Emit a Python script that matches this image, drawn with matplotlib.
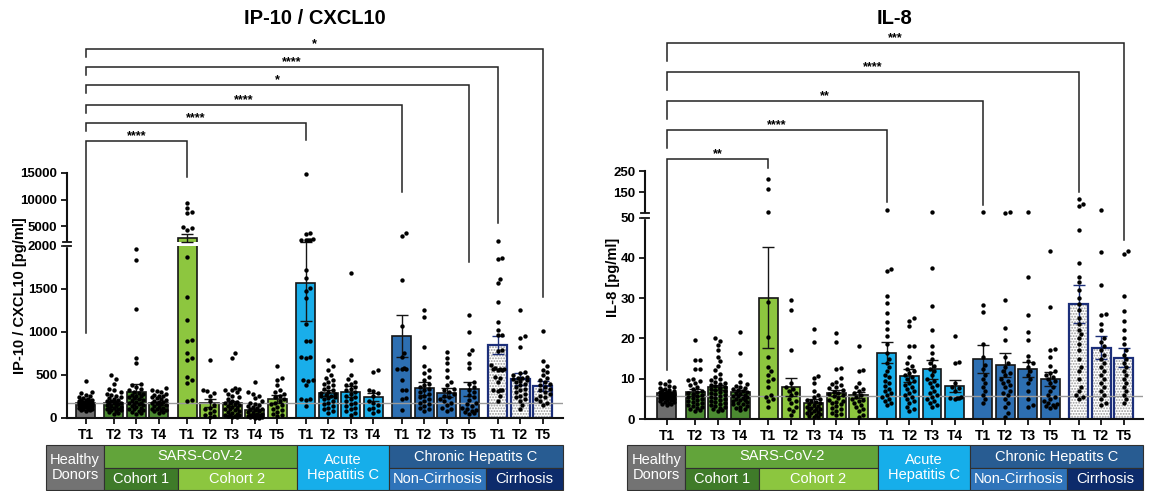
import numpy as np
import matplotlib
matplotlib.use("Agg")
import matplotlib.pyplot as plt
from matplotlib.transforms import blended_transform_factory as btf
from matplotlib.patches import Rectangle
from matplotlib.ticker import NullLocator

plt.rcParams['font.family'] = ['Liberation Sans', 'DejaVu Sans']
plt.rcParams['font.weight'] = 'bold'
plt.rcParams['hatch.linewidth'] = 0.9

# ---------------- data ----------------
group_sizes = [1, 3, 5, 4, 4, 3]   # Healthy, SARS C1, SARS C2, AHC, CHC non-cirr, CHC cirr
tick_labels = ["T1", "T2", "T3", "T4", "T1", "T2", "T3", "T4", "T5",
               "T1", "T2", "T3", "T4", "T1", "T2", "T3", "T5", "T1", "T2", "T5"]

ip10_means = [170, 178, 306, 170, 2800, 175, 170, 93, 217,
              1575, 295, 306, 240, 953, 345, 295, 340, 850, 455, 376]
ip10_sems = [10, 15, 85, 15, 700, 42, 25, 15, 47,
             450, 35, 66, 47, 245, 78, 50, 79, 107, 66, 58]
ip10_points = [
    [435, 300, 285, 270, 255, 245, 235, 225, 215, 210, 205, 200, 195, 190, 185, 180, 178, 175, 172, 170,
     168, 165, 160, 158, 155, 150, 148, 145, 140, 135, 130, 125, 120, 115, 110, 105, 100, 95, 90, 85],
    [495, 450, 400, 340, 320, 300, 280, 270, 255, 240, 230, 220, 210, 200, 195, 190, 180, 175, 170, 160,
     150, 145, 140, 130, 120, 115, 110, 100, 95, 90, 80, 70, 60, 50],
    [1960, 1840, 1270, 700, 640, 400, 380, 360, 340, 320, 300, 290, 280, 270, 260, 250, 240, 230, 220, 210,
     200, 190, 180, 170, 165, 160, 150, 140, 130, 120, 110, 100, 90, 80, 70, 60, 50],
    [345, 330, 310, 300, 280, 270, 260, 250, 240, 230, 220, 210, 200, 190, 185, 180, 170, 160, 150, 140,
     130, 120, 110, 100, 95, 90, 80, 70, 60],
    [9370, 8450, 7640, 7500, 4750, 4300, 4700, 1876, 1407, 1140, 907, 900, 760, 700, 680, 480, 440, 410, 210, 200],
    [670, 330, 310, 290, 260, 200, 150, 120, 100, 80, 60, 40, 20, 10],
    [750, 700, 350, 340, 330, 320, 300, 280, 260, 240, 220, 200, 190, 180, 170, 160, 150, 140, 130, 120,
     110, 100, 90, 80, 70, 60, 50, 40, 35, 30, 25, 20, 15, 10],
    [420, 300, 280, 260, 230, 200, 180, 160, 150, 140, 130, 120, 110, 100, 90, 80, 70, 60, 50, 45,
     40, 35, 30, 25, 20, 15, 10, 10, 5, 5],
    [610, 470, 440, 380, 330, 300, 280, 260, 240, 220, 200, 180, 160, 150, 130, 110, 90, 70, 50, 30, 20],
    [14800, 3700, 3600, 2500, 2450, 2420, 2400, 2380, 1720, 1630, 1510, 1480, 1390, 1090, 890, 895, 705, 700,
     710, 440, 445, 435, 385, 220, 225, 215, 140],
    [680, 600, 560, 500, 470, 440, 420, 400, 380, 360, 340, 320, 300, 290, 280, 270, 260, 250, 240, 230,
     220, 200, 180, 160, 140, 120, 100, 80, 60],
    [1680, 680, 500, 450, 420, 400, 380, 360, 340, 320, 300, 280, 260, 240, 220, 200, 180, 160, 140, 120,
     100, 80, 60, 40],
    [560, 540, 330, 310, 290, 250, 200, 180, 150, 120, 100, 80, 60],
    [3640, 3080, 1600, 1070, 760, 710, 580, 575, 570, 565, 440, 330, 320, 230, 225, 95],
    [1260, 1180, 830, 600, 560, 520, 480, 440, 400, 380, 360, 340, 320, 300, 280, 260, 240, 220, 200, 180,
     160, 140, 120, 100, 80],
    [770, 700, 640, 560, 480, 420, 380, 340, 320, 300, 280, 260, 240, 220, 200, 180, 150, 120, 100, 80],
    [1200, 1000, 790, 740, 640, 580, 420, 390, 360, 330, 300, 270, 240, 210, 180, 160, 140, 120, 100, 90,
     80, 70, 60, 50],
    [2300, 1860, 1850, 1620, 1570, 1350, 1120, 1020, 970, 960, 790, 780, 620, 580, 575, 570, 565, 560, 555,
     480, 470, 420, 330, 325, 320, 315, 250, 200],
    [1250, 950, 930, 820, 540, 520, 500, 480, 470, 460, 450, 440, 430, 420, 400, 380, 360, 340, 320, 300,
     280, 260, 240, 220, 200, 150, 100],
    [1010, 660, 600, 560, 530, 500, 470, 440, 420, 400, 380, 360, 340, 320, 300, 280, 260, 240, 220, 200, 180, 150],
]
ip10_ref = 170
ip10_yticks = [0, 500, 1000, 1500, 2000, 5000, 10000, 15000]

il8_means = [6.4, 6.6, 7.9, 6.6, 30.1, 7.9, 4.05, 6.5, 5.9,
             16.5, 10.7, 12.3, 8.2, 14.9, 13.4, 12.3, 9.9, 28.5, 17.7, 15.2]
il8_sems = [0.3, 0.8, 0.6, 0.7, 12.5, 2.2, 1.0, 0.7, 0.7,
            2.7, 1.6, 2.4, 1.5, 3.5, 3.1, 1.9, 1.7, 4.7, 2.8, 2.3]
il8_points = [
    [9.5, 9.0, 8.6, 8.3, 8.0, 7.8, 7.5, 7.3, 7.1, 7.0, 6.8, 6.6, 6.5, 6.4, 6.3, 6.2, 6.1, 6.0, 5.9, 5.8,
     5.7, 5.6, 5.5, 5.4, 5.3, 5.2, 5.1, 5.0, 4.9, 4.8, 4.6, 4.5, 4.3, 4.1, 4.0, 3.8, 3.6, 3.5, 6.5, 6.0],
    [19.6, 14.7, 14.6, 12.5, 12.3, 10, 9.6, 9.4, 9, 8.5, 8, 7.5, 7, 6.8, 6.5, 6.2, 6, 5.8, 5.5, 5.2,
     5, 4.8, 4.5, 4.2, 4, 3.8, 3.5, 3.2, 3, 2.8, 2.5, 2.2, 2],
    [20.2, 19.4, 18.4, 17, 15.5, 14.3, 13.2, 12.1, 11.2, 10.5, 10, 9.6, 9.3, 9, 8.8, 8.5, 8.2, 8, 7.8, 7.5,
     7.2, 7, 6.8, 6.5, 6.2, 6, 5.8, 5.5, 5.2, 5, 4.8, 4.5, 4.2, 4, 3.8, 3.5, 3.2, 3, 2.8, 2.5, 2.2, 2],
    [21.5, 16.4, 11, 9.2, 8.6, 8.2, 8, 7.7, 7.4, 7.2, 7, 6.8, 6.5, 6.3, 6, 5.8, 5.6, 5.4, 5.2, 5,
     4.8, 4.6, 4.4, 4.2, 4, 3.8, 3.6, 3.3, 3, 2.8, 2.5, 2.2],
    [211, 164, 55.6, 29, 20.3, 15.5, 13, 12, 11, 10, 9.5, 8, 6, 5.5, 5, 4.5, 3],
    [29.5, 27, 17, 9, 8, 7.5, 7, 6.5, 6, 5, 4.5, 4, 3, 2.5, 2, 1],
    [22.3, 19, 10.6, 10.2, 9, 7, 6, 5.5, 5, 4.8, 4.5, 4.2, 4, 3.8, 3.5, 3.2, 3, 2.8, 2.6, 2.4,
     2.2, 2, 1.8, 1.6, 1.4, 1.2, 1, 0.8, 0.6, 0.5],
    [21.3, 19, 12.6, 12.3, 10.2, 9.3, 8.8, 8.4, 8, 7.6, 7.2, 6.8, 6.5, 6.2, 6, 5.6, 5.2, 4.8, 4.5, 4.2,
     4, 3.6, 3.2, 2.8, 2.4, 2, 1.6, 1.2, 1],
    [18.1, 12.2, 11.9, 9, 8, 7.5, 7, 6.5, 6, 5.5, 5, 4.8, 4.5, 4, 3.5, 3, 2.5, 2, 1, 0.5],
    [68.7, 37.2, 36.7, 30.4, 28.7, 26.2, 24, 22.3, 20.7, 18.5, 16.5, 15, 14, 13, 12, 11, 10.3, 9.5, 9, 8.3,
     7.5, 7, 6.5, 6, 5.5, 5, 4.5, 4, 3.5],
    [25, 24.3, 23, 18, 18, 15.5, 14, 13.2, 12.5, 12, 11.5, 11, 10.5, 10, 9.5, 9, 8.5, 8, 7.5, 7,
     6.5, 6, 5.5, 5, 4.5, 4, 3, 2.5, 2],
    [58.7, 37.4, 28.1, 22, 18, 16.5, 15, 14, 13.2, 12.5, 12, 11, 10, 9.5, 9, 8.5, 8, 7, 6.5, 6,
     5.5, 5, 4.5, 4, 3.5, 3],
    [20.5, 14.1, 14, 9, 8, 7.6, 7, 5.5, 5.3, 5.2, 5.1, 5],
    [56, 28.2, 26.5, 18.5, 15.5, 13.5, 12.5, 11, 10, 9, 8, 7, 6, 5, 4],
    [55, 54, 29.5, 22.6, 19.5, 15.3, 14, 13, 12, 11.5, 11, 10, 9.5, 9, 8.5, 8, 7, 6.5, 6, 5, 4, 3, 1.5, 0.5],
    [58, 35.3, 25.8, 21.7, 19.6, 15.7, 14.5, 13.8, 13, 12, 11, 10, 9, 7, 5, 3.5, 3],
    [41.6, 27.8, 17.4, 17, 15.3, 13.2, 12, 11.5, 11, 10.5, 10, 9.5, 9, 8, 7, 6, 5.5, 5, 4.5, 4,
     3.8, 3.5, 3.2, 3, 2.8],
    [116, 95, 84, 47, 38.7, 35.3, 34, 32, 30, 28.5, 27, 25, 23.5, 22, 21, 20, 18.5, 17, 15, 13,
     12, 10, 8, 7, 6, 5, 5.5],
    [66, 41.4, 33.3, 26, 25.8, 23.5, 22, 20, 19, 18, 17, 16, 15, 14, 13, 12, 11, 10, 9, 8, 7, 6, 5, 4, 3.5],
    [41.7, 41, 30.5, 26.8, 24.2, 22, 20, 18.5, 17, 16, 15, 14, 13, 12, 11, 10, 9, 8, 7, 6, 5, 4],
]
il8_ref = 5.8
il8_yticks = [0, 10, 20, 30, 40, 50, 150, 250]

# significance comparisons: (index of first bar, index of second bar, label)
ip10_sig = [(0, 4, "****"), (0, 9, "****"), (0, 13, "****"), (0, 16, "*"), (0, 17, "****"), (0, 19, "*")]
il8_sig = [(0, 4, "**"), (0, 9, "****"), (0, 13, "**"), (0, 17, "****"), (0, 19, "***")]

# ---------------- styling ----------------
group_colors = ['#6e6e6e', '#4b8a31', '#8dc63f', '#19aeea', '#2d6fb2', 'white']
W, H = 1152, 491
fig = plt.figure(figsize=(W / 100, H / 100), dpi=100)


def fy(px):
    return 1 - px / H


positions = []
gidx = []
xcur = 0.0
for g, n in enumerate(group_sizes):
    for _ in range(n):
        positions.append(xcur)
        gidx.append(g)
        xcur += 1
    xcur += 0.25
positions = np.array(positions)


def make_scale(brk, gap, k):
    def fwd(y):
        y = np.asarray(y, float)
        return np.where(y <= brk, y, brk + gap + (y - brk) * k)

    def inv(u):
        u = np.asarray(u, float)
        return np.where(u <= brk, u, brk + np.maximum(u - brk - gap, 0) / k)
    return fwd, inv


def swarm(ax, x, vals, d=4.6, half=9.0):
    vals = np.asarray(vals, float)
    pts = ax.transData.transform(np.column_stack([np.full(len(vals), x), vals]))
    ys = pts[:, 1]
    ppu = ax.transData.transform([[1, 0]])[0, 0] - ax.transData.transform([[0, 0]])[0, 0]
    step = d / 2
    cands = [0.0]
    for k in range(1, 12):
        cands += [k * step, -k * step]
    cands = [c for c in cands if abs(c) <= half]
    px_l, py_l = [], []
    offs = np.zeros(len(vals))
    for i in np.argsort(ys):
        y = ys[i]
        best, bestc, bestd = None, 0.0, -1
        for c in cands:
            if px_l:
                md = np.min(np.hypot(c - np.array(px_l), y - np.array(py_l)))
            else:
                md = 1e9
            if md >= d:
                best = c
                break
            if md > bestd:
                bestd, bestc = md, c
        if best is None:
            best = bestc
        offs[i] = best
        px_l.append(best)
        py_l.append(y)
    return x + offs / ppu


def draw_panel(rect_px, xlim, brk, gap, k, ylim_top, means, sems, points, ref, yticks,
               title, ylabel, ylab_pos, sig, sig_px, box_right):
    l, r, t, b = rect_px
    ax = fig.add_axes([l / W, 1 - b / H, (r - l) / W, (b - t) / H])
    ax.set_yscale('function', functions=make_scale(brk, gap, k))
    ax.set_xlim(*xlim)
    ax.set_ylim(0, ylim_top)
    ax.set_yticks(yticks)
    ax.set_yticklabels([str(v) for v in yticks])
    ax.yaxis.set_minor_locator(NullLocator())
    ax.set_xticks(positions)
    ax.set_xticklabels(tick_labels)
    ax.tick_params(axis='both', width=1.3, length=4, pad=3, color='#111111')
    ax.tick_params(axis='x', labelsize=10)
    ax.tick_params(axis='y', labelsize=9.5)
    for s in ['top', 'right']:
        ax.spines[s].set_visible(False)
    for s in ['left', 'bottom']:
        ax.spines[s].set_linewidth(1.5)
        ax.spines[s].set_color('#111111')

    w = 0.84
    for i, (x, m, e) in enumerate(zip(positions, means, sems)):
        g = gidx[i]
        if g == 5:
            ax.bar(x, m, width=w, color='white', edgecolor='#999999', hatch='......', lw=0, zorder=2)
            ax.bar(x, m, width=w, fill=False, edgecolor='#1c2f7a', lw=1.6, zorder=2.2)
            ec = '#1c2f7a'
        else:
            ax.bar(x, m, width=w, color=group_colors[g], edgecolor='#151515', lw=1.2, zorder=2)
            ec = '#151515'
        ax.errorbar(x, m, yerr=e, fmt='none', ecolor=ec, elinewidth=1.0, capsize=4, capthick=1.0, zorder=3)
        if m > brk:
            ax.fill_between([x - w / 2 - 0.1, x + w / 2 + 0.1], brk, brk * (1 + 1e-6),
                            color='white', lw=0, zorder=2.6)
    ax.axhline(ref, color='#9a9a9a', lw=1.0, zorder=2.5)

    for i, x in enumerate(positions):
        xs = swarm(ax, x, points[i])
        ax.scatter(xs, points[i], s=10, color='black', linewidths=0, zorder=4, clip_on=False)

    # axis break marks
    trb = btf(ax.transAxes, ax.transData)
    eps = brk * 1e-6
    ax.add_patch(Rectangle((-0.01, brk), 0.02, eps, transform=trb, color='white', zorder=5, clip_on=False))
    for yy in (brk, brk + eps):
        ax.plot([-0.009, 0.009], [yy, yy], transform=trb, color='#111111', lw=1.3, zorder=6, clip_on=False)

    ax.set_ylabel(ylabel, fontsize=10.5, fontweight='bold')
    ax.yaxis.set_label_coords(*ylab_pos)

    fig.text((l + r) / 2 / W, fy(18), title, ha='center', va='center', fontsize=14.5, fontweight='bold')

    # significance brackets
    tr = btf(ax.transData, fig.transFigure)
    for (i0, i1, lab), (ypx, lend, rend) in zip(sig, sig_px):
        x0, x1 = positions[i0], positions[i1]
        ax.plot([x0, x0, x1, x1], [fy(lend), fy(ypx), fy(ypx), fy(rend)], transform=tr,
                color='#222222', lw=1.1, clip_on=False, solid_joinstyle='miter')
        ax.text((x0 + x1) / 2, fy(ypx - 2), lab, transform=tr, ha='center', va='baseline',
                fontsize=9, fontweight='bold')

    # category boxes under the axis
    trx = btf(ax.transData, fig.transFigure)
    y_top, y_mid, y_bot = fy(445), fy(468), fy(490)
    xr = box_right
    boxes = [
        (-1.75, 0.82, y_bot, y_top, '#737373', 'Healthy\nDonors'),
        (0.82, 9.35, y_mid, y_top, '#62a43a', 'SARS-CoV-2'),
        (0.82, 4.08, y_bot, y_mid, '#3f7b29', 'Cohort 1'),
        (4.08, 9.35, y_bot, y_mid, '#8cc63f', 'Cohort 2'),
        (9.35, 13.45, y_bot, y_top, '#16aeea', 'Acute\nHepatitis C'),
        (13.45, xr, y_mid, y_top, '#285c92', 'Chronic Hepatits C'),
        (13.45, 17.75, y_bot, y_mid, '#2f74ba', 'Non-Cirrhosis'),
        (17.75, xr, y_bot, y_mid, '#0d2b6b', 'Cirrhosis'),
    ]
    for x0, x1, y0, y1, c, lab in boxes:
        ax.add_patch(Rectangle((x0, y0), x1 - x0, y1 - y0, transform=trx, facecolor=c,
                               edgecolor='#303030', lw=0.8, clip_on=False, zorder=1))
        ax.text((x0 + x1) / 2, (y0 + y1) / 2, lab, transform=trx, ha='center', va='center',
                color='white', fontsize=10.5, fontweight='normal', linespacing=1.1, zorder=2)
    return ax


# left panel: IP-10
draw_panel(rect_px=(67, 563, 173, 418), xlim=(-0.82, 21.15), brk=2000, gap=45, k=0.0618, ylim_top=15000,
           means=ip10_means, sems=ip10_sems, points=ip10_points, ref=ip10_ref, yticks=ip10_yticks,
           title='IP-10 / CXCL10', ylabel='IP-10 / CXCL10 [pg/ml]', ylab_pos=(-0.081, 0.5),
           sig=ip10_sig,
           sig_px=[(141, 333, 177), (123, 131, 140), (105, 113, 192), (85, 93, 262), (67, 75, 223), (49, 57, 297)],
           box_right=21.15)

# right panel: IL-8
draw_panel(rect_px=(645, 1143, 171, 419), xlim=(-0.97, 21.1), brk=50, gap=1.0, k=0.0527, ylim_top=250,
           means=il8_means, sems=il8_sems, points=il8_points, ref=il8_ref, yticks=il8_yticks,
           title='IL-8', ylabel='IL-8 [pg/ml]', ylab_pos=(-0.05, 0.573),
           sig=il8_sig,
           sig_px=[(159, 370, 168), (130, 148, 202), (101, 119, 205), (72, 90, 192), (43, 61, 240)],
           box_right=21.1)

fig.savefig('out.png', dpi=100)
